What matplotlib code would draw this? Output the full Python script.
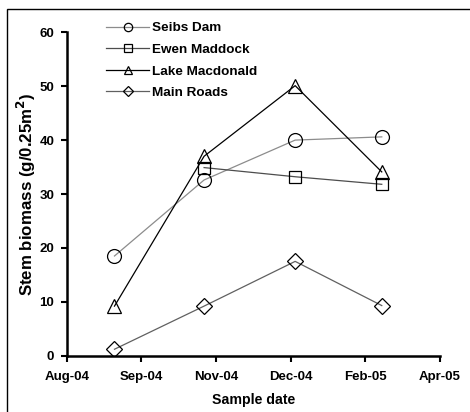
import matplotlib
matplotlib.use("Agg")
import matplotlib.pyplot as plt
import matplotlib.dates as mdates
from matplotlib.patches import Rectangle
import numpy as np
import datetime as dt

plt.rcParams['font.family'] = ['Liberation Sans', 'DejaVu Sans']

sample_dates = [dt.date(2004, 9, 2), dt.date(2004, 11, 1), dt.date(2005, 1, 1), dt.date(2005, 2, 28)]
seibs_dam = [18.5, 32.6, 40.0, 40.6]
ewen_maddock = [np.nan, 34.9, 33.2, 31.8]
lake_macdonald = [9.2, 37.0, 50.1, 34.1]
main_roads = [1.2, 9.2, 17.5, 9.3]
tick_dates = [dt.date(2004, 8, 1) + dt.timedelta(days=50 * k) for k in range(6)]

W, H = 470, 412
fig = plt.figure(figsize=(W / 100, H / 100), dpi=100)
ax = fig.add_axes([66.7 / W, 1 - 355.7 / H, (440 - 66.7) / W, (355.7 - 32.3) / H])

# outer border
fig.patches.append(Rectangle((7 / W, -0.05), 1.2, 1 - 9 / H + 0.05, transform=fig.transFigure,
                             fill=False, edgecolor='black', linewidth=1.0, zorder=0))

x = mdates.date2num(sample_dates)
ms = 10
ax.plot(x, seibs_dam, color='#8c8c8c', lw=0.9, marker='o', ms=ms, mfc='none', mec='black', mew=0.9, label='Seibs Dam')
ax.plot(x, ewen_maddock, color='#4d4d4d', lw=0.9, marker='s', ms=ms - 1, mfc='none', mec='black', mew=0.9, label='Ewen Maddock')
ax.plot(x, lake_macdonald, color='black', lw=0.9, marker='^', ms=ms, mfc='none', mec='black', mew=0.9, label='Lake Macdonald')
ax.plot(x, main_roads, color='#606060', lw=0.9, marker='D', ms=ms - 2, mfc='none', mec='black', mew=0.9, label='Main Roads')

ax.set_xlim(mdates.date2num(tick_dates[0]), mdates.date2num(tick_dates[-1]))
ax.set_ylim(0, 60)
ax.set_xticks(mdates.date2num(tick_dates))
ax.set_xticklabels([d.strftime('%b-%y') for d in tick_dates])
ax.set_yticks([0, 10, 20, 30, 40, 50, 60])

for s in ['top', 'right']:
    ax.spines[s].set_visible(False)
for s in ['left', 'bottom']:
    ax.spines[s].set_linewidth(1.8)
ax.tick_params(axis='both', direction='out', length=4, width=1.5, labelsize=9.5)
ax.tick_params(axis='x', pad=7)
ax.tick_params(axis='y', pad=5)
for lab in ax.get_xticklabels() + ax.get_yticklabels():
    lab.set_fontweight('bold')

ax.set_xlabel('Sample date', fontsize=10.2, fontweight='bold', labelpad=7)
ax.set_ylabel('Stem biomass (g/0.25m$^\\mathbf{2}$)', fontsize=12.2, fontweight='bold', labelpad=1)

leg = ax.legend(loc='upper left', bbox_to_anchor=(106 / W, 1 - 22 / H), bbox_transform=fig.transFigure,
                frameon=False, prop={'weight': 'bold', 'size': 9.7}, handlelength=3.2, markerscale=0.6,
                handletextpad=0.2, labelspacing=0.68, borderaxespad=0, borderpad=0)

fig.savefig('out.png', dpi=100)
